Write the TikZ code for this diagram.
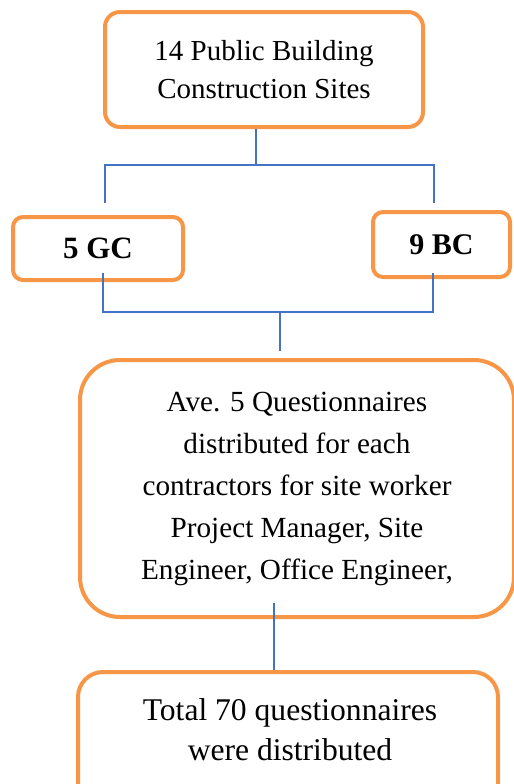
\documentclass[tikz,border=0pt]{standalone}
\usepackage{fontspec}
\setmainfont{Liberation Serif}
\usepackage{tikz}
\definecolor{boxorange}{RGB}{247,150,70}
\definecolor{lineblue}{RGB}{68,114,196}

\begin{document}
\begin{tikzpicture}[x=0.5pt,y=-0.5pt,
  box/.style={draw=boxorange,line width=2pt,fill=white,align=center,inner sep=0pt},
  link/.style={draw=lineblue,line width=0.8pt}]
\useasboundingbox (0,0) rectangle (514,784);

% sites
\node[box,rounded corners=7.5pt,minimum width=159pt,minimum height=57.5pt,
  font=\fontsize{14.5}{19}\selectfont] (sites) at (264,69.5) {14 Public Building\\Construction Sites};

% contractors
\node[box,rounded corners=5pt,minimum width=85pt,minimum height=31.5pt,
  font=\fontsize{15.5}{19}\selectfont\bfseries] (gc) at (98,248.5) {5 GC};
\node[box,rounded corners=5pt,minimum width=68.5pt,minimum height=32.5pt,
  font=\fontsize{15}{19}\selectfont\bfseries] (bc) at (441.5,244.5) {9 BC};

% questionnaires
\node[box,rounded corners=20pt,minimum width=217pt,minimum height=128.5pt,
  font=\fontsize{14.6}{21}\selectfont] (ave) at (297,488.5)
  {Ave. 5 Questionnaires\\distributed for each\\contractors for site worker\\Project Manager, Site\\Engineer, Office Engineer,};

\node[box,rounded corners=12.5pt,minimum width=210pt,minimum height=80pt,anchor=north] (total) at (288,670) {};
\node[font=\fontsize{15.8}{20}\selectfont,align=center,inner sep=0pt] (totaltext) at (290,730)
  {Total 70 questionnaires\\were distributed};

% connectors
\coordinate (j1) at (256,165);
\coordinate (gcin) at (105,203);
\coordinate (bcin) at (434,203);
\draw[link] (sites.south -| j1) -- (j1);
\draw[link] (gcin) |- (j1) -| (bcin);

\coordinate (gcout) at (103,273);
\coordinate (bcout) at (433,273);
\coordinate (j2) at (280,312);
\coordinate (avein) at (280,351);
\draw[link] (gcout) |- (j2) -| (bcout);
\draw[link] (j2) -- (avein);

\coordinate (aveout) at (274,603);
\draw[link] (aveout) -- (total.north -| aveout);

\end{tikzpicture}
\end{document}
